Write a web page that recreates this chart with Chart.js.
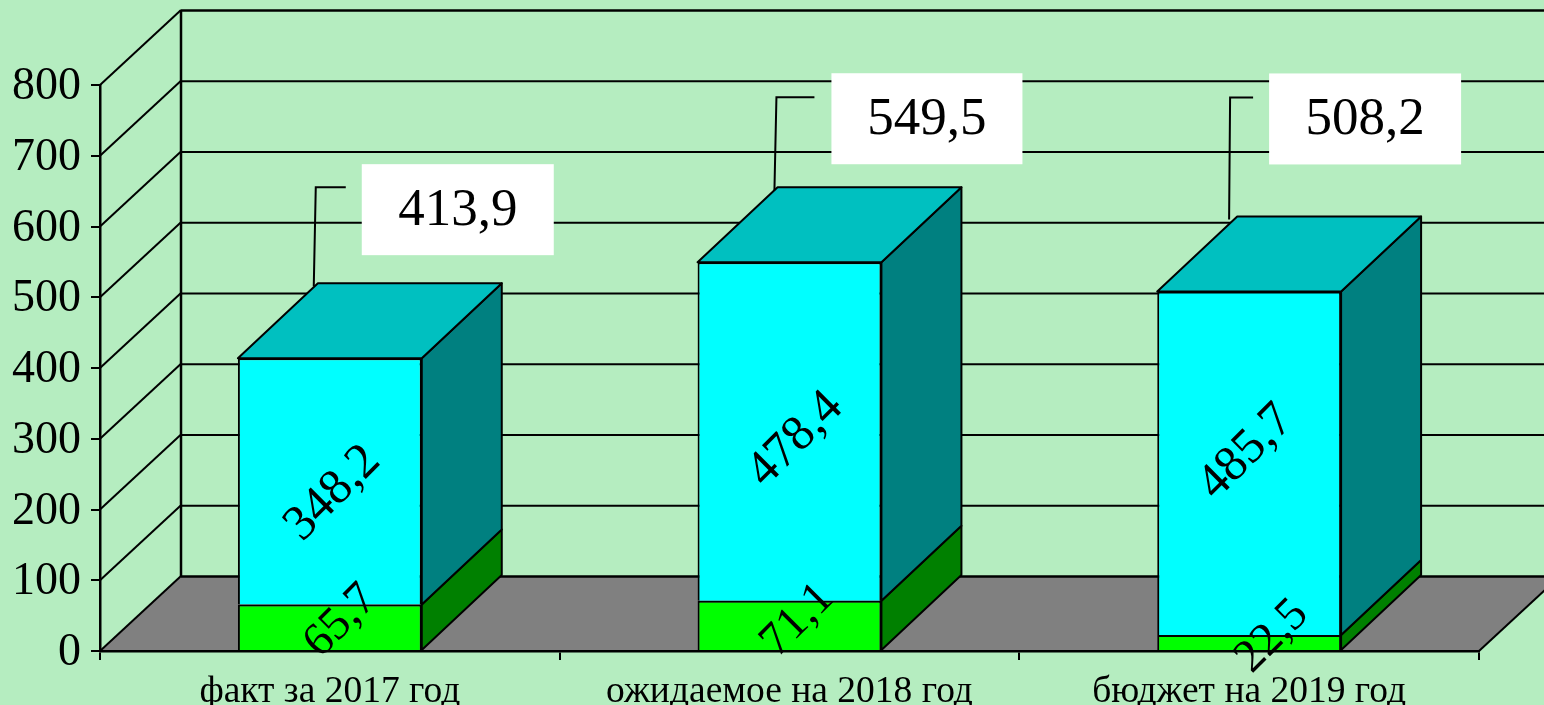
<!DOCTYPE html>
<html><head><meta charset="utf-8">
<style>html,body{margin:0;padding:0;background:#B5EDC0;overflow:hidden}canvas{display:block}</style>
<script src="https://cdn.jsdelivr.net/npm/chart.js@4"></script>
</head><body><canvas id="c" width="1544" height="705"></canvas>
<script>
const categories = ['факт за 2017 год', 'ожидаемое на 2018 год', 'бюджет на 2019 год'];
const lowerValues = [65.7, 71.1, 22.5];
const upperValues = [348.2, 478.4, 485.7];
const totals = [413.9, 549.5, 508.2];
const yTicks = [0, 100, 200, 300, 400, 500, 600, 700, 800];

const fmt = v => v.toFixed(1).replace('.', ',');
const FONT = '"Liberation Serif","Times New Roman",serif';
const DX = 81, DY = 75, BAR_DX = 80;
const lowerNudge = [[11, -6], [8, -5], [23, -6]];
const upperNudge = [[3, 12], [6, 8], [-3, -11]];
const callouts = [
  {dx: -60, dy: -194, w: 192, h: 91, lx: -106, ly: -171, ex: 30, foot: -108},
  {dx: -50, dy: -189, w: 191, h: 91, lx: -105, ly: -165, ex: 38, foot: -107},
  {dx: -72, dy: -218, w: 192, h: 91, lx: -111, ly: -194, ex: 23, foot: -112}
];

function poly(ctx, pts, fill, lw) {
  ctx.beginPath();
  pts.forEach((p, i) => i ? ctx.lineTo(p[0], p[1]) : ctx.moveTo(p[0], p[1]));
  ctx.closePath();
  if (fill) { ctx.fillStyle = fill; ctx.fill(); }
  if (lw) { ctx.lineWidth = lw; ctx.strokeStyle = '#000'; ctx.lineJoin = 'round'; ctx.stroke(); }
}
function line(ctx, x1, y1, x2, y2, lw) {
  ctx.beginPath(); ctx.moveTo(x1, y1); ctx.lineTo(x2, y2);
  ctx.lineWidth = lw; ctx.strokeStyle = '#000'; ctx.stroke();
}

const box3d = {
  id: 'box3d',
  beforeDraw(chart) {
    const {ctx, chartArea: a, scales: {y}} = chart;
    ctx.save();
    ctx.fillStyle = '#B5EDC0';
    ctx.fillRect(0, 0, chart.width, chart.height);
    const y0 = y.getPixelForValue(0);
    poly(ctx, [[a.left, y0], [a.left + DX, y0 - DY], [a.right + DX, y0 - DY], [a.right, y0]], '#808080', 0);
    line(ctx, a.right, y0, a.right + DX, y0 - DY, 2);
    yTicks.forEach(t => {
      const py = y.getPixelForValue(t);
      line(ctx, a.left, py, a.left + DX, py - DY, 2);
      line(ctx, a.left + DX, py - DY + 0.5, a.right + DX, py - DY + 0.5, t === 0 || t === 800 ? 2.5 : 2);
    });
    line(ctx, a.left + DX, y.getPixelForValue(800) - DY, a.left + DX, y0 - DY, 2.5);
    ctx.restore();
  },
  afterDatasetsDraw(chart) {
    const {ctx} = chart;
    ctx.save();
    const sides = ['#008000', '#008080'];
    chart.data.datasets.forEach((ds, d) => {
      chart.getDatasetMeta(d).data.forEach(el => {
        const r = el.x + el.width / 2;
        poly(ctx, [[r, el.base], [r + BAR_DX, el.base - DY], [r + BAR_DX, el.y - DY], [r, el.y]], sides[d], 2);
      });
    });
    chart.getDatasetMeta(1).data.forEach(el => {
      const l = el.x - el.width / 2, r = el.x + el.width / 2;
      poly(ctx, [[l, el.y], [l + BAR_DX, el.y - DY], [r + BAR_DX, el.y - DY], [r, el.y]], '#00C0C0', 2);
    });
    ctx.restore();
  },
  afterDraw(chart) {
    const {ctx} = chart;
    ctx.save();
    ctx.textAlign = 'center'; ctx.textBaseline = 'middle'; ctx.fillStyle = '#000';
    const rotated = (txt, x, y) => {
      ctx.save(); ctx.translate(x, y); ctx.rotate(-Math.PI / 4);
      ctx.fillText(txt, 0, 0); ctx.restore();
    };
    [[0, lowerValues, lowerNudge, 47], [1, upperValues, upperNudge, 50]].forEach(([d, vals, nudge, size]) => {
      ctx.font = size + 'px ' + FONT;
      chart.getDatasetMeta(d).data.forEach((el, i) => {
        rotated(fmt(vals[i]), el.x + nudge[i][0], (el.y + el.base) / 2 + nudge[i][1]);
      });
    });
    chart.getDatasetMeta(1).data.forEach((el, i) => {
      const c = callouts[i], r = el.x + el.width / 2;
      const bx = r + c.dx, by = el.y + c.dy;
      const lx = r + c.lx, ly = el.y + c.ly;
      ctx.beginPath();
      ctx.moveTo(r + c.foot, el.y - DY + 3);
      ctx.lineTo(lx, ly); ctx.lineTo(lx + c.ex, ly);
      ctx.lineWidth = 2; ctx.strokeStyle = '#000'; ctx.lineJoin = 'miter'; ctx.stroke();
      ctx.fillStyle = '#fff';
      ctx.fillRect(bx, by, c.w, c.h);
      ctx.fillStyle = '#000';
      ctx.font = '53px ' + FONT;
      ctx.fillText(fmt(totals[i]), bx + c.w / 2, by + c.h / 2 + 1);
    });
    ctx.restore();
  }
};

new Chart(document.getElementById('c'), {
  type: 'bar',
  data: {
    labels: categories,
    datasets: [
      {data: lowerValues, backgroundColor: '#00FF00', borderColor: '#000', borderWidth: 2, borderSkipped: 'bottom'},
      {data: upperValues, backgroundColor: '#00FFFF', borderColor: '#000', borderWidth: 2, borderSkipped: 'bottom'}
    ]
  },
  plugins: [box3d],
  options: {
    responsive: false, animation: false,
    layout: {padding: {top: 85, right: 65, left: 0, bottom: 0}},
    datasets: {bar: {barPercentage: 0.4, categoryPercentage: 1}},
    plugins: {legend: {display: false}, tooltip: {enabled: false}},
    scales: {
      x: {
        stacked: true,
        grid: {drawOnChartArea: false, drawTicks: true, tickLength: 9, color: '#000', lineWidth: 2, offset: true},
        border: {color: '#000', width: 2.5, z: 1},
        ticks: {color: '#000', font: {family: FONT, size: 37.5}, padding: 10, maxRotation: 0, autoSkip: false},
        afterFit(s) { s.height = 54; }
      },
      y: {
        stacked: true, min: 0, max: 800,
        afterBuildTicks(s) { s.ticks = yTicks.map(v => ({value: v})); },
        grid: {drawOnChartArea: false, drawTicks: true, tickLength: 9, color: '#000', lineWidth: 2},
        border: {color: '#000', width: 2.5, z: 1},
        ticks: {color: '#000', font: {family: FONT, size: 46}, padding: 10, labelOffset: 2},
        afterFit(s) { s.width = 100; }
      }
    }
  }
});
</script></body></html>
